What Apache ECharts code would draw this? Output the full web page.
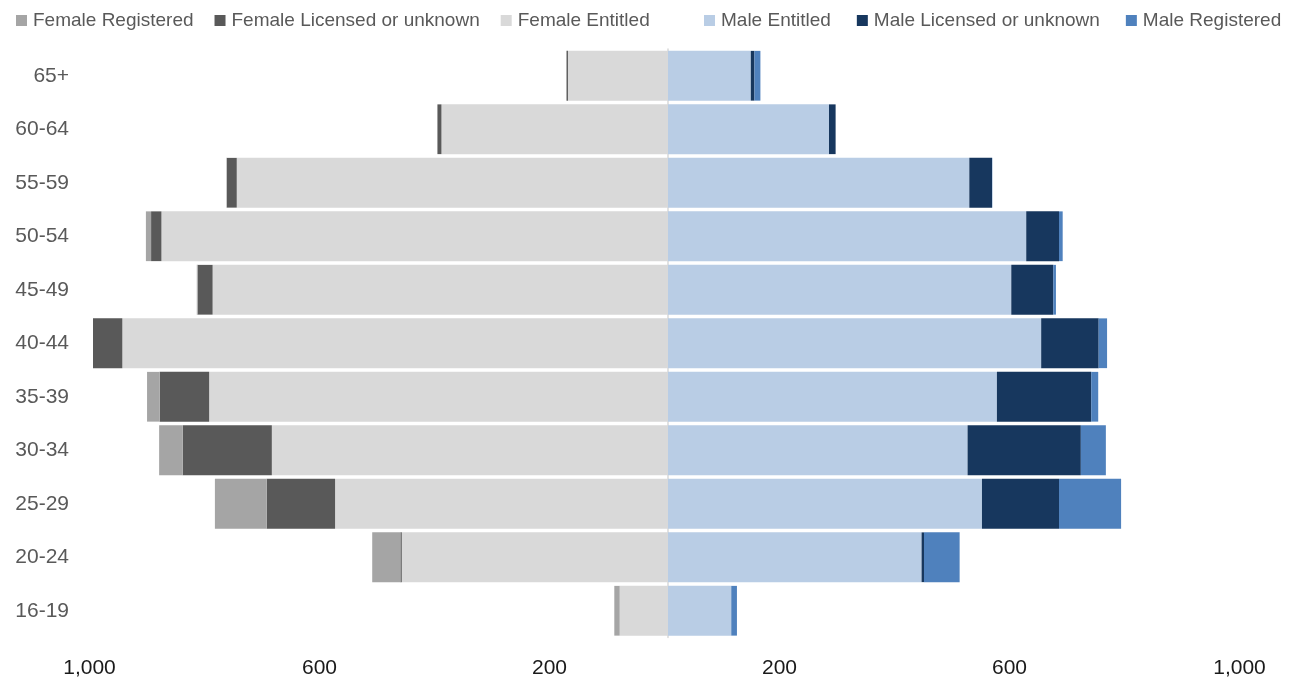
<!DOCTYPE html>
<html>
<head>
<meta charset="utf-8">
<script src="https://cdn.jsdelivr.net/npm/echarts@6/dist/echarts.min.js"></script>
<style>html,body{margin:0;padding:0;background:#fff;}#c{width:1302px;height:680px;}</style>
</head>
<body>
<div id="c"></div>
<script>
var categories = ["65+","60-64","55-59","50-54","45-49","40-44","35-39","30-34","25-29","20-24","16-19"];
var femaleEntitled   = [174, 394, 750, 881, 792, 949, 798, 689, 579, 463, 84];
var femaleLicensed   = [2.5, 7, 17, 18, 26, 53, 86, 155, 119, 2.4, 0];
var femaleRegistered = [0, 0, 1, 9, 1.5, 0, 22, 41, 90, 49, 9.4];
var maleEntitled     = [144, 280, 524, 623, 597, 649, 572, 521, 546, 441, 110];
var maleLicensed     = [6.3, 11.5, 39.5, 57, 73, 100, 164, 197, 134, 4.2, 0];
var maleRegistered   = [10.4, 0, 0.5, 6.4, 4.7, 14.6, 12.2, 43.5, 108, 62, 9.9];
var xTicks = {min: -1000, max: 1000, interval: 400};

var fmt = function (v) { return Math.abs(v).toLocaleString('en-US'); };
var neg = function (arr) { return arr.map(function (v) { return -v; }); };

function bar(name, data, color) {
  return {
    name: name, type: 'bar', stack: 'total', data: data,
    yAxisIndex: 0, barCategoryGap: '7%',
    itemStyle: { color: color },
    emphasis: { disabled: true }
  };
}

var chart = echarts.init(document.getElementById('c'), null, { renderer: 'canvas' });
chart.setOption({
  animation: false,
  textStyle: { fontFamily: 'Liberation Sans, Arial, sans-serif' },
  legend: [{
    left: 11, top: 6, itemWidth: 11, itemHeight: 11, itemGap: 21, icon: 'rect',
    textStyle: { fontSize: 19, color: '#595959', padding: [0, 0, 0, 1] },
    data: ['Female Registered', 'Female Licensed or unknown', 'Female Entitled']
  }, {
    left: 699, top: 6, itemWidth: 11, itemHeight: 11, itemGap: 26, icon: 'rect',
    textStyle: { fontSize: 19, color: '#595959', padding: [0, 0, 0, 1] },
    data: ['Male Entitled', 'Male Licensed or unknown', 'Male Registered']
  }],
  grid: { left: 93, right: 59, top: 49, bottom: 42.5, containLabel: false },
  xAxis: {
    type: 'value', min: xTicks.min, max: xTicks.max, interval: xTicks.interval,
    axisLine: { show: false }, axisTick: { show: false }, splitLine: { show: false },
    axisLabel: { formatter: fmt, fontSize: 21, color: '#1a1a1a', margin: 20, padding: [0, 7, 0, 0] }
  },
  yAxis: [{
    type: 'category', data: categories, inverse: true,
    axisLine: { show: false, onZero: false }, axisTick: { show: false },
    axisLabel: { fontSize: 21, color: '#595959', margin: 24 }
  }, {
    type: 'category', data: categories, inverse: true, position: 'left',
    axisLine: { show: true, onZero: true, lineStyle: { color: '#d9d9d9', width: 1.5 } },
    axisTick: { show: false }, axisLabel: { show: false }
  }],
  series: [
    bar('Female Entitled', neg(femaleEntitled), '#d9d9d9'),
    bar('Female Licensed or unknown', neg(femaleLicensed), '#595959'),
    bar('Female Registered', neg(femaleRegistered), '#a5a5a5'),
    bar('Male Entitled', maleEntitled, '#b9cde5'),
    bar('Male Licensed or unknown', maleLicensed, '#17375e'),
    bar('Male Registered', maleRegistered, '#4f81bd')
  ]
});
</script>
</body>
</html>
